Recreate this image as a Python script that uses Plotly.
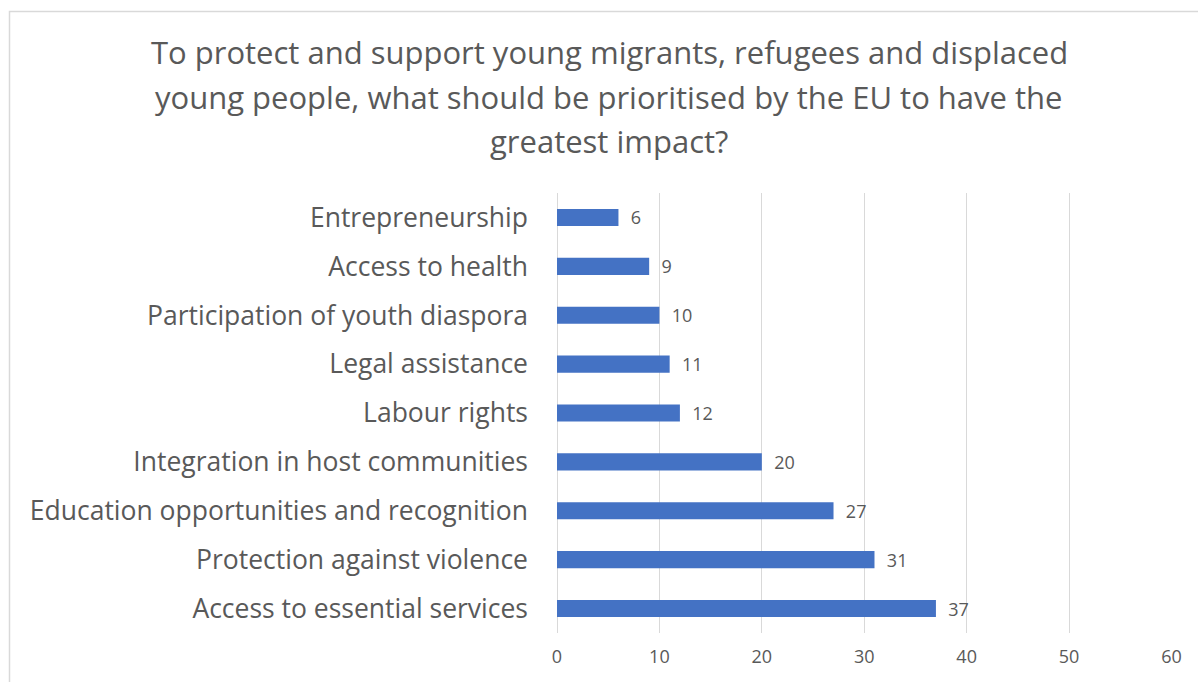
import plotly.graph_objects as go

categories = [
    "Entrepreneurship",
    "Access to health",
    "Participation of youth diaspora",
    "Legal assistance",
    "Labour rights",
    "Integration in host communities",
    "Education opportunities and recognition",
    "Protection against violence",
    "Access to essential services",
]
values = [6, 9, 10, 11, 12, 20, 27, 31, 37]
x_ticks = [0, 10, 20, 30, 40, 50, 60]
title_lines = [
    "To protect and support young migrants, refugees and displaced",
    "young people, what should be prioritised by the EU to have the",
    "greatest impact?",
]

W, H = 1198, 682
L, R, T, B = 557, 26, 193, 49
FONT = "Open Sans"
GRAY = "#595959"

fig = go.Figure(go.Bar(
    x=values, y=categories, orientation="h",
    marker=dict(color="#4472C4", line=dict(width=0)),
    text=["\u00a0\u00a0" + str(v) for v in values], textposition="outside",
    textfont=dict(family=FONT, size=18, color=GRAY),
    constraintext="none",
    cliponaxis=False,
))

plot_h = H - T - B
plot_w = W - L - R

def px_to_paper_y(py):
    return 1 - (py - T) / plot_h

def px_to_paper_x(px):
    return (px - L) / plot_w

annotations = []
for line, cy in zip(title_lines, [52, 97, 141]):
    annotations.append(dict(
        text=line, xref="paper", yref="paper",
        x=px_to_paper_x(609), y=px_to_paper_y(cy),
        xanchor="center", yanchor="middle", showarrow=False,
        font=dict(family=FONT, size=31, color=GRAY),
    ))

fig.update_layout(
    width=W, height=H,
    margin=dict(l=L, r=R, t=T, b=B, autoexpand=False),
    paper_bgcolor="white", plot_bgcolor="white",
    bargap=0.65, showlegend=False,
    annotations=annotations,
    shapes=[dict(type="rect", xref="paper", yref="paper",
                 x0=px_to_paper_x(9.5), x1=2, y0=-1, y1=px_to_paper_y(11.5),
                 line=dict(color="#D9D9D9", width=1.5), fillcolor="rgba(0,0,0,0)",
                 layer="below")],
    xaxis=dict(range=[0, 60.05], tickvals=x_ticks, showgrid=True,
               gridcolor="#D9D9D9", gridwidth=1, zeroline=True,
               zerolinecolor="#D9D9D9", zerolinewidth=1, showline=False,
               ticks="", tickfont=dict(family=FONT, size=18, color=GRAY),
               ticklabelstandoff=11, fixedrange=True),
    yaxis=dict(autorange="reversed", showgrid=False, showline=False,
               ticks="", tickfont=dict(family=FONT, size=26.5, color=GRAY),
               ticklabelstandoff=28, fixedrange=True),
)

fig.write_html("out.html")
